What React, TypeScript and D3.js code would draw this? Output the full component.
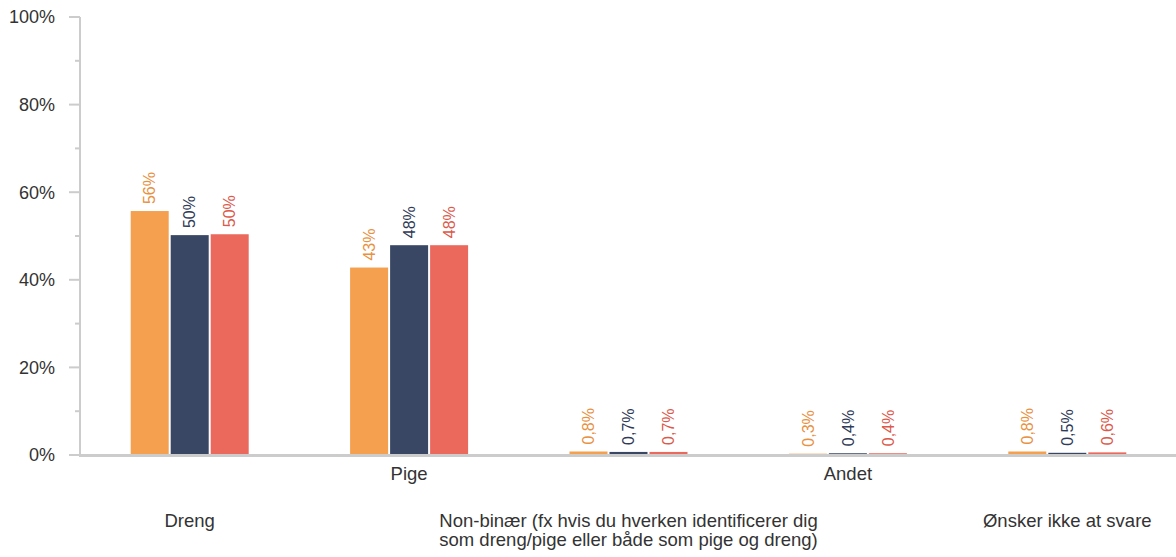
import React from "react";
import * as d3 from "d3";

const categories = [
  "Dreng",
  "Pige",
  "Non-binær (fx hvis du hverken identificerer dig som dreng/pige eller både som pige og dreng)",
  "Andet",
  "Ønsker ikke at svare",
];
const categoryLines = [
  ["Dreng"],
  ["Pige"],
  ["Non-binær (fx hvis du hverken identificerer dig", "som dreng/pige eller både som pige og dreng)"],
  ["Andet"],
  ["Ønsker ikke at svare"],
];
const seriesNames = ["A", "B", "C"];
const seriesA = [55.7, 42.8, 0.8, 0.3, 0.8];
const seriesB = [50.2, 47.9, 0.7, 0.4, 0.5];
const seriesC = [50.4, 47.9, 0.7, 0.4, 0.6];
const seriesValues = [seriesA, seriesB, seriesC];
const barColors = ["#F4A04F", "#394764", "#EA695C"];
const labelColors = ["#E8913F", "#2F3B58", "#DC5A4C"];
const yTicks = [0, 20, 40, 60, 80, 100];
const yMinorTicks = [10, 30, 50, 70, 90];

const W = 1176;
const H = 557;
const left = 80;
const right = 1177;
const top = 17;
const bottom = 455;

function fmt(v: number) {
  if (v >= 1) return `${Math.round(v)}%`;
  return `${v.toFixed(1).replace(".", ",")}%`;
}

export default function App() {
  const x0 = d3.scaleBand<string>().domain(categories).range([left, right]).padding(0);
  const x1 = d3.scaleBand<string>().domain(seriesNames).range([-60, 60]).padding(0);
  const y = d3.scaleLinear().domain([0, 100]).range([bottom, top]);
  const font = "Arial, 'Liberation Sans', sans-serif";

  return (
    <svg
      width={W}
      height={H}
      style={{ position: "absolute", left: 0, top: 0, background: "#fff" }}
      fontFamily={font}
    >
      {/* y axis */}
      <line x1={left} x2={left} y1={y(100)} y2={bottom} stroke="#ccc" strokeWidth={2} />
      {yTicks.map((t) => (
        <g key={t}>
          <line x1={69} x2={left} y1={y(t)} y2={y(t)} stroke="#ccc" strokeWidth={2} />
          <text x={55} y={y(t)} dy="0.35em" textAnchor="end" fontSize={18} fill="#333">
            {t}%
          </text>
        </g>
      ))}
      {yMinorTicks.map((t) => (
        <line key={t} x1={75} x2={left} y1={y(t)} y2={y(t)} stroke="#ccc" strokeWidth={2} />
      ))}

      {/* bars */}
      {categories.map((c, ci) => {
        const cx = (x0(c) as number) + x0.bandwidth() / 2;
        return (
          <g key={c}>
            {seriesNames.map((s, si) => {
              const v = seriesValues[si][ci];
              const bx = cx + (x1(s) as number) + 1;
              const bw = x1.bandwidth() - 2;
              const by = y(v);
              const lx = bx + bw / 2;
              const ly = by - 7;
              return (
                <g key={s}>
                  <rect x={bx} y={by} width={bw} height={bottom - by} fill={barColors[si]} />
                  <text
                    transform={`translate(${lx},${ly}) rotate(-90)`}
                    dy="0.35em"
                    textAnchor="start"
                    fontSize={16}
                    fill={labelColors[si]}
                  >
                    {fmt(v)}
                  </text>
                </g>
              );
            })}
          </g>
        );
      })}

      {/* x axis */}
      <line x1={left - 1} x2={W} y1={bottom + 0.5} y2={bottom + 0.5} stroke="#ccc" strokeWidth={3} />
      {categories.map((c, ci) => {
        const cx = (x0(c) as number) + x0.bandwidth() / 2;
        const baseY = ci % 2 === 1 ? 480 : 527;
        return (
          <text key={c} textAnchor="middle" fontSize={18.5} fill="#333">
            {categoryLines[ci].map((ln, li) => (
              <tspan key={li} x={cx} y={baseY + li * 19}>
                {ln}
              </tspan>
            ))}
          </text>
        );
      })}
    </svg>
  );
}
